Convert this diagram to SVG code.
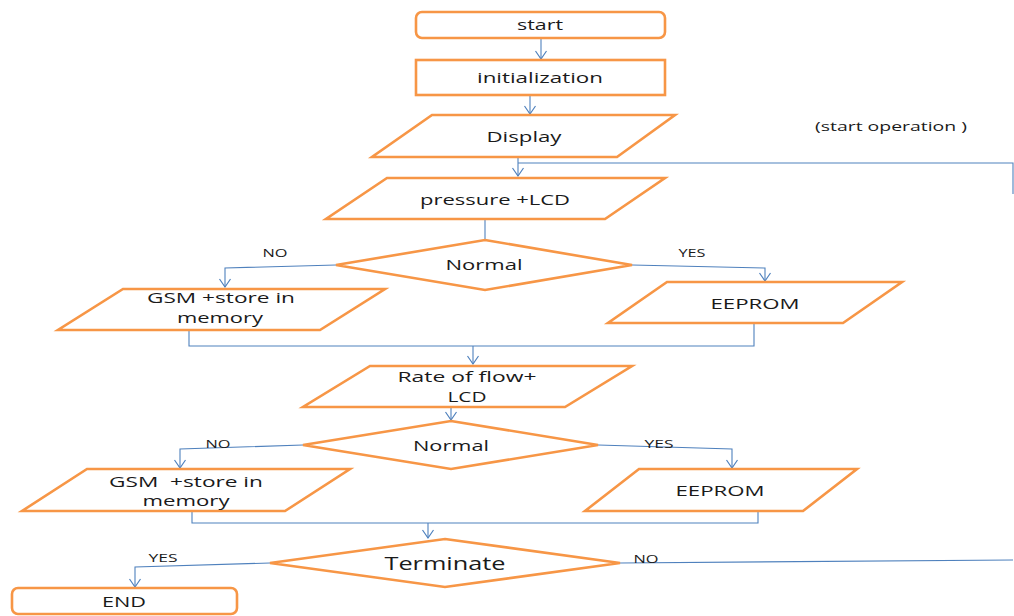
<svg xmlns="http://www.w3.org/2000/svg" width="1014" height="616" viewBox="0 0 1014 616">
<defs>
<marker id="arr" markerWidth="14" markerHeight="14" refX="9" refY="7" orient="auto" markerUnits="userSpaceOnUse" viewBox="0 0 14 14">
<polyline points="1,1.5 9,7 1,12.5" fill="none" stroke="#4F81BD" stroke-width="1.2"/>
</marker>
<style>
.n{fill:#fff;stroke:#F79646;stroke-width:2.6;stroke-linejoin:miter}
.c{fill:none;stroke:#4F81BD;stroke-width:1.1}
text{font-family:"Open Sans","DejaVu Sans",sans-serif;fill:#1a1a1a;text-anchor:middle}
.t{font-size:15px}
.b{font-size:18px}
.l{font-size:11px}
.s{font-size:13px}
</style>
</defs>
<rect width="1014" height="616" fill="#fff"/>
<g id="connectors">
<path class="c" d="M541,38 V59" marker-end="url(#arr)"/>
<path class="c" d="M530,95 V114" marker-end="url(#arr)"/>
<path class="c" d="M518,157 V176" marker-end="url(#arr)"/>
<path class="c" d="M518,163 H1013 V194"/>
<path class="c" d="M485,219 V240"/>
<path class="c" d="M336,265 L225,268 V287" marker-end="url(#arr)"/>
<path class="c" d="M632,265 L765,268 V281" marker-end="url(#arr)"/>
<path class="c" d="M189,330 V346 H754 V323"/>
<path class="c" d="M473,346 V364" marker-end="url(#arr)"/>
<path class="c" d="M451,407 V420" marker-end="url(#arr)"/>
<path class="c" d="M303,445 L180,449 V468" marker-end="url(#arr)"/>
<path class="c" d="M598,445 L732,449 V468" marker-end="url(#arr)"/>
<path class="c" d="M192,511 V523 H758 V511"/>
<path class="c" d="M428,523 V538" marker-end="url(#arr)"/>
<path class="c" d="M270,563 L135,567 V587" marker-end="url(#arr)"/>
<path class="c" d="M620,563 L1013,560"/>
<text class="l" x="275" y="257" textLength="25" lengthAdjust="spacingAndGlyphs">NO</text>
<text class="l" x="692" y="257" textLength="27" lengthAdjust="spacingAndGlyphs">YES</text>
<text class="l" x="218" y="448" textLength="25" lengthAdjust="spacingAndGlyphs">NO</text>
<text class="l" x="659" y="448" textLength="29" lengthAdjust="spacingAndGlyphs">YES</text>
<text class="l" x="163" y="562" textLength="29" lengthAdjust="spacingAndGlyphs">YES</text>
<text class="l" x="646" y="563" textLength="25" lengthAdjust="spacingAndGlyphs">NO</text>
</g>
<g id="start">
<rect class="n" x="416" y="12" width="249" height="26" rx="6"/>
<text class="t" x="540" y="30" textLength="46" lengthAdjust="spacingAndGlyphs">start</text>
</g>
<g id="initialization">
<rect class="n" x="416" y="60" width="249" height="35"/>
<text class="t" x="540" y="83" textLength="126" lengthAdjust="spacingAndGlyphs">initialization</text>
</g>
<g id="display">
<polygon class="n" points="432,115 675,115 617,157 372,157"/>
<text class="t" x="524" y="142" textLength="75" lengthAdjust="spacingAndGlyphs">Display</text>
</g>
<g id="start-operation">
<text class="s" x="891" y="131" textLength="152" lengthAdjust="spacingAndGlyphs">(start operation )</text>
</g>
<g id="pressure">
<polygon class="n" points="387,178 665,178 605,219 326,219"/>
<text class="t" x="495" y="205" textLength="150" lengthAdjust="spacingAndGlyphs">pressure +LCD</text>
</g>
<g id="normal1">
<polygon class="n" points="485,240 632,265 485,290 336,265"/>
<text class="t" x="484" y="270" textLength="77" lengthAdjust="spacingAndGlyphs">Normal</text>
</g>
<g id="gsm1">
<polygon class="n" points="123,289 385,289 320,330 58,330"/>
<text class="t" x="221" y="303" textLength="148" lengthAdjust="spacingAndGlyphs">GSM +store in</text>
<text class="t" x="220" y="323" textLength="86" lengthAdjust="spacingAndGlyphs">memory</text>
</g>
<g id="eeprom1">
<polygon class="n" points="667,282 902,282 843,323 608,323"/>
<text class="t" x="755" y="309" textLength="89" lengthAdjust="spacingAndGlyphs">EEPROM</text>
</g>
<g id="rate">
<polygon class="n" points="370,366 632,366 565,407 303,407"/>
<text class="t" x="467" y="382" textLength="139" lengthAdjust="spacingAndGlyphs">Rate of flow+</text>
<text class="t" x="467" y="402" textLength="39" lengthAdjust="spacingAndGlyphs">LCD</text>
</g>
<g id="normal2">
<polygon class="n" points="451,421 598,445 451,469 303,445"/>
<text class="t" x="451" y="451" textLength="76" lengthAdjust="spacingAndGlyphs">Normal</text>
</g>
<g id="gsm2">
<polygon class="n" points="87,469 350,469 285,511 22,511"/>
<text class="t" x="186" y="487" textLength="154" lengthAdjust="spacingAndGlyphs" xml:space="preserve">GSM  +store in</text>
<text class="t" x="186" y="506" textLength="87" lengthAdjust="spacingAndGlyphs">memory</text>
</g>
<g id="eeprom2">
<polygon class="n" points="639,469 857,469 803,511 585,511"/>
<text class="t" x="720" y="496" textLength="89" lengthAdjust="spacingAndGlyphs">EEPROM</text>
</g>
<g id="terminate">
<polygon class="n" points="445,539 620,563 445,587 270,563"/>
<text class="b" x="445" y="570" textLength="121" lengthAdjust="spacingAndGlyphs">Terminate</text>
</g>
<g id="end">
<rect class="n" x="12" y="588" width="225" height="26" rx="6"/>
<text class="t" x="124" y="607" textLength="44" lengthAdjust="spacingAndGlyphs">END</text>
</g>
</svg>
